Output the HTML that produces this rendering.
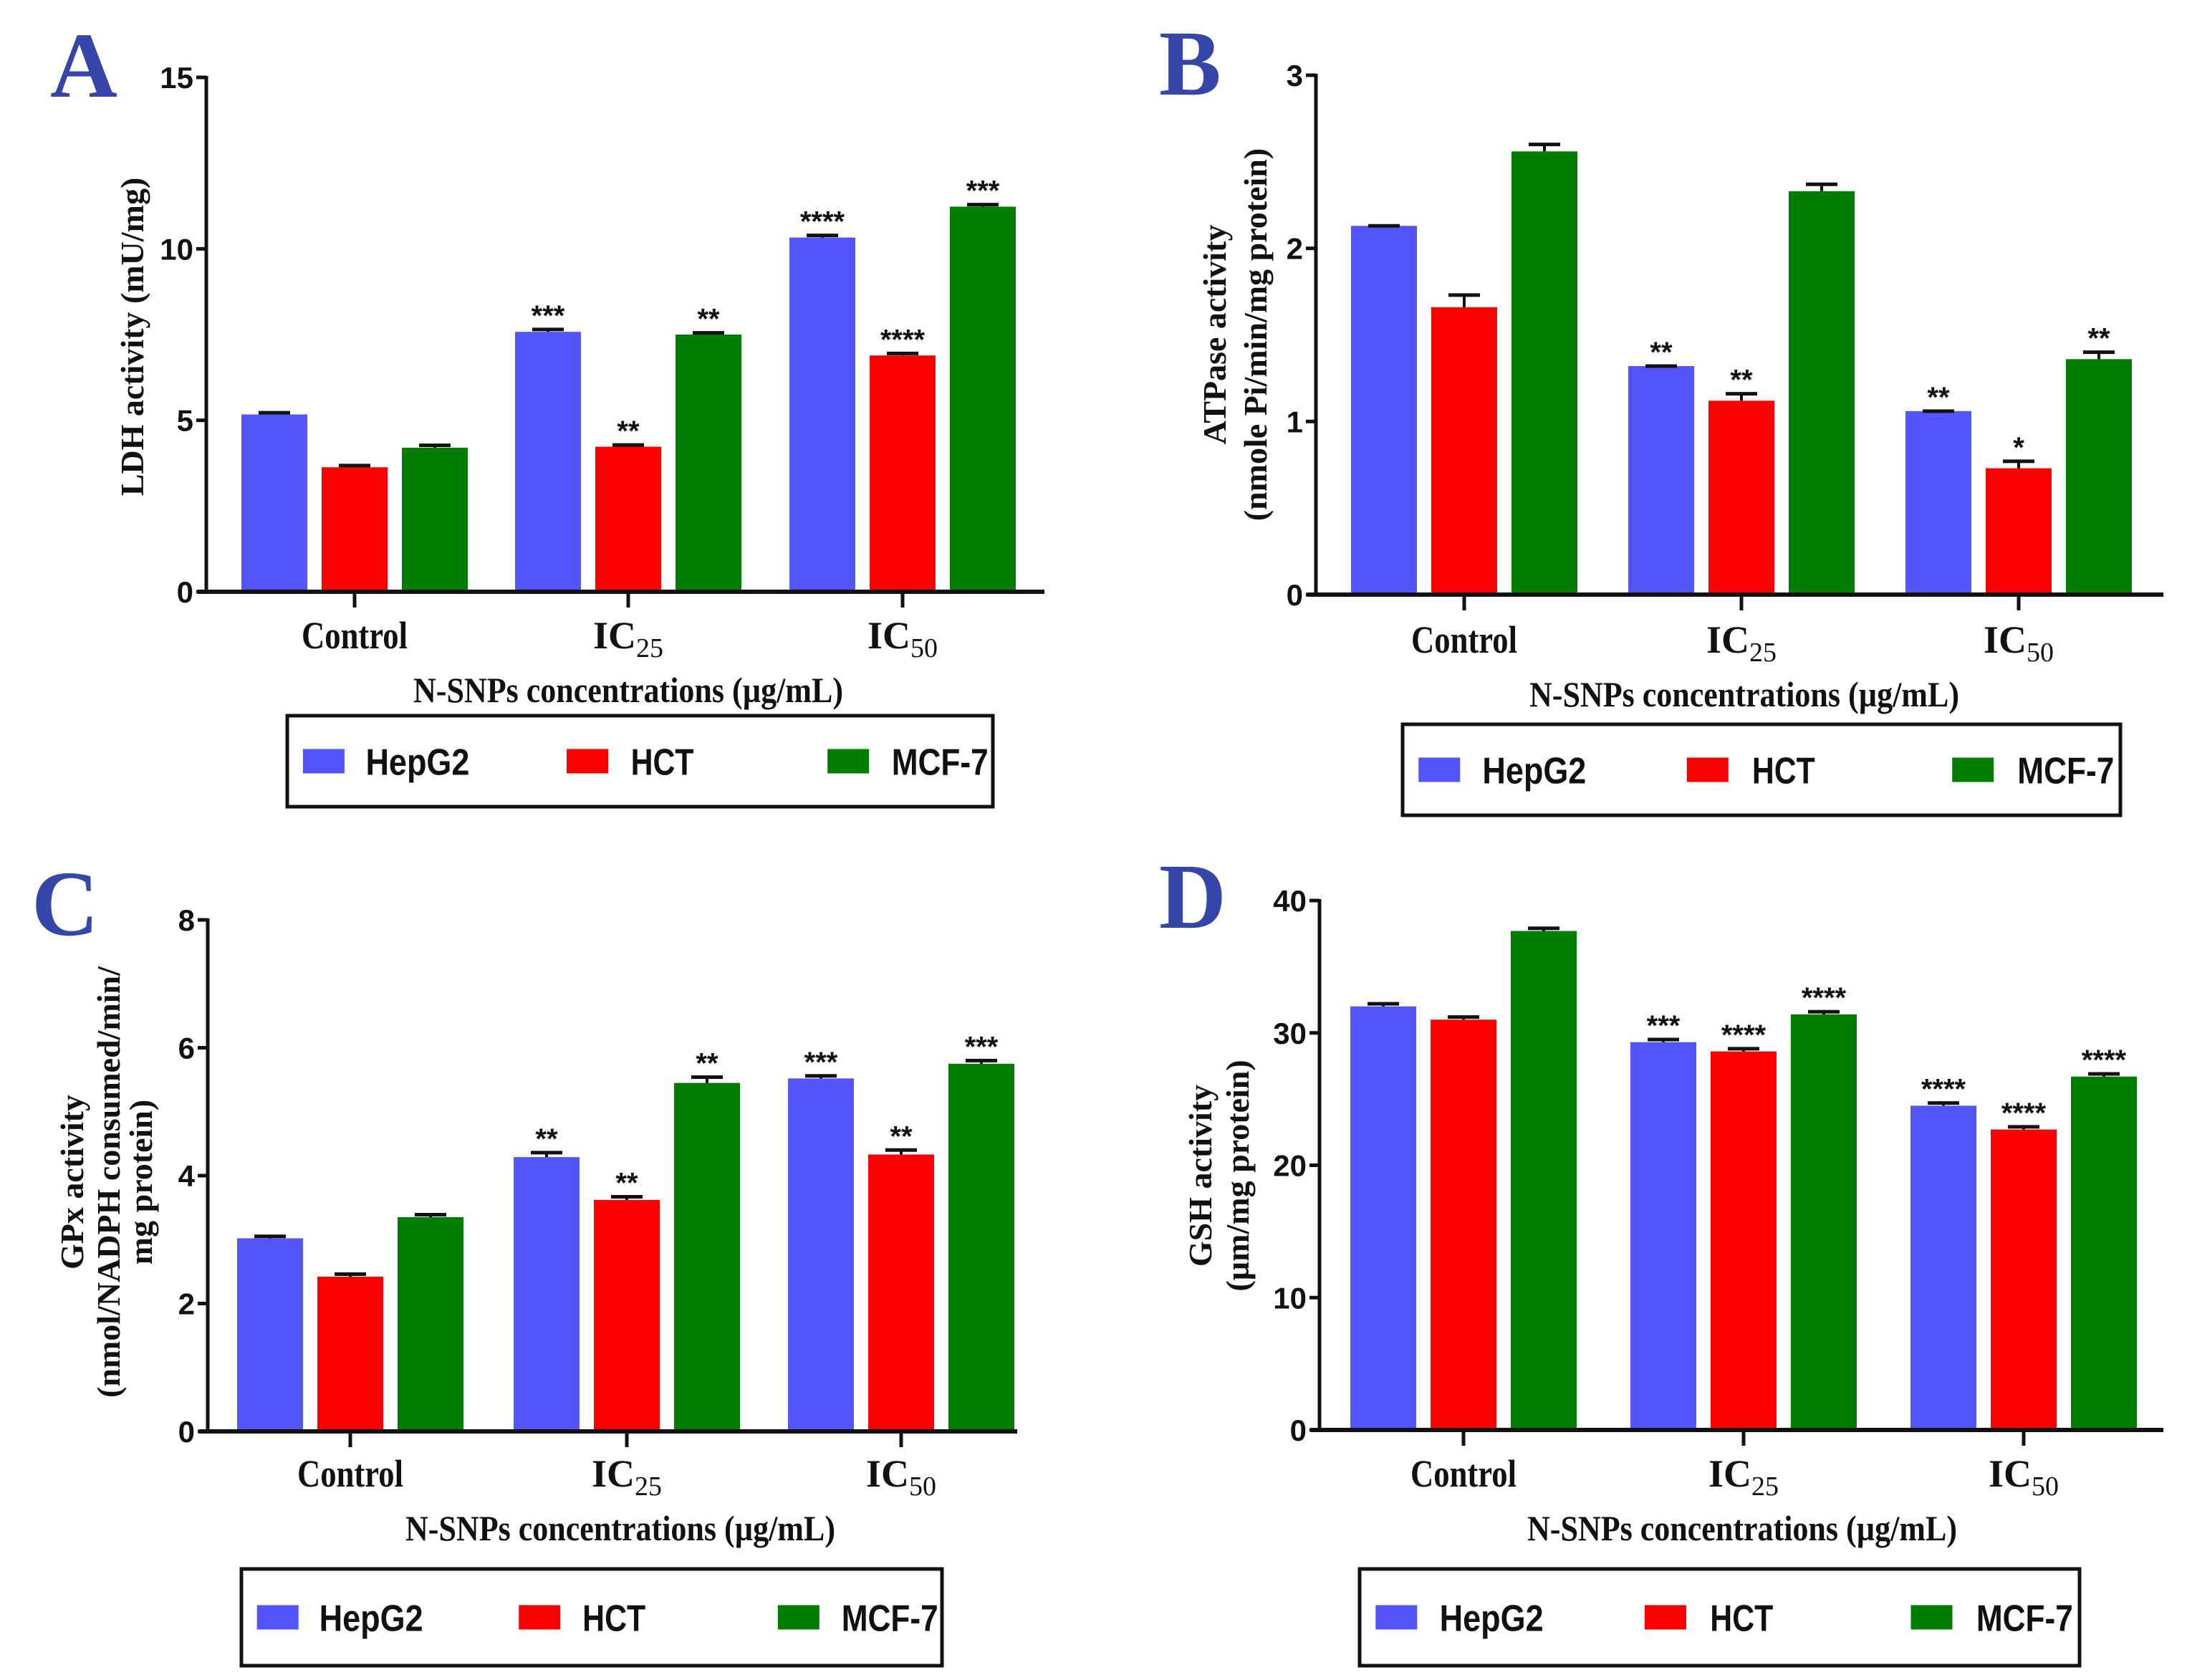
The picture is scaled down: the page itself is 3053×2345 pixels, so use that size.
<!DOCTYPE html>
<html><head><meta charset="utf-8"><style>
html,body{margin:0;padding:0;background:#fff;overflow:hidden;}
svg{display:block;}
</style></head><body>
<svg id="fig" width="3053" height="2345" viewBox="0 0 3053 2345" xmlns="http://www.w3.org/2000/svg"></svg>
<script>
const categories = ["Control", "IC", "IC"];
const catSubs = ["", "25", "50"];
const seriesNames = ["HepG2", "HCT", "MCF-7"];
const seriesColors = ["#5454fb", "#fb0000", "#017d01"];

const ldhHep = [5.17, 7.58, 10.33];
const ldhHct = [3.63, 4.23, 6.89];
const ldhMcf = [4.2, 7.5, 11.23];
const ldhErr = [[0.05,0.07,0.06],[0.05,0.05,0.06],[0.07,0.05,0.06]];
const ldhStars = [["","***","****"],["","**","****"],["","**","***"]];
const ldhTicks = [0, 5, 10, 15];

const atpHep = [2.13, 1.32, 1.06];
const atpHct = [1.66, 1.12, 0.73];
const atpMcf = [2.56, 2.33, 1.36];
const atpErr = [[0.0,0.0,0.0],[0.07,0.04,0.04],[0.04,0.04,0.04]];
const atpStars = [["","**","**"],["","**","*"],["","","**"]];
const atpTicks = [0, 1, 2, 3];

const gpxHep = [3.02, 4.29, 5.52];
const gpxHct = [2.42, 3.62, 4.33];
const gpxMcf = [3.35, 5.45, 5.75];
const gpxErr = [[0.03,0.07,0.04],[0.04,0.05,0.07],[0.04,0.09,0.05]];
const gpxStars = [["","**","***"],["","**","**"],["","**","***"]];
const gpxTicks = [0, 2, 4, 6, 8];

const gshHep = [32.0, 29.3, 24.5];
const gshHct = [31.0, 28.6, 22.7];
const gshMcf = [37.7, 31.4, 26.7];
const gshErr = [[0.2,0.2,0.2],[0.2,0.2,0.2],[0.2,0.2,0.2]];
const gshStars = [["","***","****"],["","****","****"],["","****","****"]];
const gshTicks = [0, 10, 20, 30, 40];

const NS = "http://www.w3.org/2000/svg";
const svg = document.getElementById("fig");
function mk(tag, attrs, parent) {
  const e = document.createElementNS(NS, tag);
  for (const k in attrs) e.setAttribute(k, attrs[k]);
  (parent || svg).appendChild(e);
  return e;
}

const panels = [
  {id:"a", letter:"A", lx:70, ly:135, ax:288, x1:1458, y0:826, yT:108, ymax:15, ticks:ldhTicks,
   series:[ldhHep, ldhHct, ldhMcf], err:ldhErr, stars:ldhStars, cx:[495,877,1260],
   ylab:["LDH activity (mU/mg)"], ylx:[200], yly:470, catY:905, titleY:980, titleX:877,
   legX:401, legY:999, legW:985, legH:127},
  {id:"b", letter:"B", lx:1618, ly:132, ax:1837, x1:3020, y0:830, yT:105, ymax:3, ticks:atpTicks,
   series:[atpHep, atpHct, atpMcf], err:atpErr, stars:atpStars, cx:[2044,2431,2818],
   ylab:["ATPase activity","(nmole Pi/min/mg protein)"], ylx:[1711,1768], yly:467, catY:911, titleY:986, titleX:2435,
   legX:1958, legY:1011, legW:1002, legH:127},
  {id:"c", letter:"C", lx:44, ly:1305, ax:290, x1:1420, y0:1998, yT:1284, ymax:8, ticks:gpxTicks,
   series:[gpxHep, gpxHct, gpxMcf], err:gpxErr, stars:gpxStars, cx:[489,875,1258],
   ylab:["GPx activity","(nmol/NADPH consumed/min/","mg protein)"], ylx:[116,167,212], yly:1650, catY:2075, titleY:2150, titleX:866,
   legX:337, legY:2190, legW:978, legH:135},
  {id:"d", letter:"D", lx:1618, ly:1295, ax:1842, x1:3020, y0:1996, yT:1257, ymax:40, ticks:gshTicks,
   series:[gshHep, gshHct, gshMcf], err:gshErr, stars:gshStars, cx:[2043,2434,2825],
   ylab:["GSH activity","(µm/mg protein)"], ylx:[1691,1743], yly:1641, catY:2075, titleY:2150, titleX:2432,
   legX:1898, legY:2190, legW:1005, legH:135}
];

const serif = '"Liberation Serif", serif';
const sans = '"Liberation Sans", sans-serif';
const BW = 92, OFF = 112;
const legSw = [22, 392, 758], legTx = [110, 482, 848], legLen = [145, 88, 135];

panels.forEach(p => {
  const g = mk("g", {});
  
  
  const yS = v => p.y0 - (v / p.ymax) * (p.y0 - p.yT);

  const L = mk("text", {x:p.lx, y:p.ly, "font-family":serif, "font-weight":"bold", "font-size":130, fill:"#3545a8"}, g);
  L.textContent = p.letter;
  
  

  p.series.forEach((vals, si) => {
    vals.forEach((v, ci) => {
      const cxb = p.cx[ci] + (si - 1) * OFF;
      const top = yS(v);
      const r = mk("rect", {x:cxb - BW/2, y:top, width:BW, height:p.y0 - top, fill:seriesColors[si]}, g);
      
      
      const e = p.err[si][ci];
      const et = yS(v + e);
      mk("line", {x1:cxb, x2:cxb, y1:top, y2:et, stroke:"#111", "stroke-width":4}, g);
      const cap = mk("line", {x1:cxb - 22, x2:cxb + 22, y1:et, y2:et, stroke:"#111", "stroke-width":5}, g);
      
      
      const st = p.stars[si][ci];
      if (st) {
        const s = mk("text", {x:cxb, y:et - 6, "text-anchor":"middle", "font-family":sans, "font-weight":"bold", "font-size":40, fill:"#111"}, g);
        s.textContent = st;
        
        
      }
    });
  });

  const ya = mk("line", {x1:p.ax, x2:p.ax, y1:p.yT - 2, y2:p.y0 + 2, stroke:"#111", "stroke-width":5}, g);
  
  
  const xa = mk("line", {x1:p.ax - 12, x2:p.x1, y1:p.y0, y2:p.y0, stroke:"#111", "stroke-width":6}, g);
  
  
  p.ticks.forEach(t => {
    const y = yS(t);
    mk("line", {x1:p.ax - 14, x2:p.ax, y1:y, y2:y, stroke:"#111", "stroke-width":5}, g);
    const tl = mk("text", {x:p.ax - 18, y:y + 15, "text-anchor":"end", "font-family":sans, "font-weight":"bold", "font-size":42, fill:"#111"}, g);
    tl.textContent = t;
    
    
  });
  p.cx.forEach((x, ci) => {
    mk("line", {x1:x, x2:x, y1:p.y0, y2:p.y0 + 22, stroke:"#111", "stroke-width":5}, g);
    const c = mk("text", {x:x, y:p.catY, "text-anchor":"middle", "font-family":serif, "font-weight":"bold", "font-size":54, fill:"#111"}, g);
    c.textContent = categories[ci];
    if (catSubs[ci]) {
      const sub = mk("tspan", {"font-size":38, "font-weight":"normal", dy:12}, c);
      sub.textContent = catSubs[ci];
    } else {
      c.setAttribute("textLength", 148);
      c.setAttribute("lengthAdjust", "spacingAndGlyphs");
    }
    
    
  });

  const xt = mk("text", {x:p.titleX, y:p.titleY, "text-anchor":"middle", "font-family":serif, "font-weight":"bold", "font-size":50, fill:"#111", textLength:600, lengthAdjust:"spacingAndGlyphs"}, g);
  xt.textContent = "N-SNPs concentrations (µg/mL)";
  
  

  p.ylab.forEach((line, i) => {
    const t = mk("text", {x:0, y:0, "text-anchor":"middle", "font-family":serif, "font-weight":"bold", "font-size":46, fill:"#111", transform:`translate(${p.ylx[i]},${p.yly}) rotate(-90)`}, g);
    t.textContent = line;
    
    
  });

  const lg = mk("g", {}, g);
  
  
  mk("rect", {x:p.legX, y:p.legY, width:p.legW, height:p.legH, fill:"#fff", stroke:"#111", "stroke-width":5}, lg);
  const sc = p.legW / 990;
  const my = p.legY + p.legH / 2;
  seriesNames.forEach((n, si) => {
    const r = mk("rect", {x:p.legX + legSw[si]*sc, y:my - 17, width:58, height:34, fill:seriesColors[si]}, lg);
    
    
    const t = mk("text", {x:p.legX + legTx[si]*sc, y:my + 19, "font-family":sans, "font-weight":"bold", "font-size":52, fill:"#111", textLength:legLen[si], lengthAdjust:"spacingAndGlyphs"}, lg);
    t.textContent = n;
    
    
  });
});
</script>
</body></html>
